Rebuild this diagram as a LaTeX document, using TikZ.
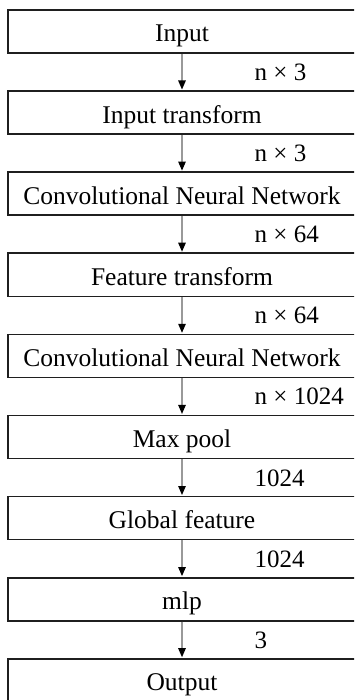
\documentclass[tikz,border=0pt]{standalone}
\usepackage{fontspec}
\setmainfont{Liberation Serif}
\usetikzlibrary{arrows.meta}
\tikzset{
  stagebox/.style={draw=black!88, line width=1.6pt, rectangle, minimum width=348pt,
    minimum height=43pt, inner sep=0pt, text height=21pt, text depth=0pt,
    font=\fontsize{25.5}{30}\selectfont},
  flow/.style={draw=black!40, line width=1.2pt, -{Triangle[length=9pt,width=7.5pt,color=black]}, shorten >=0.8pt},
  dimlabel/.style={anchor=base west, inner sep=0pt, font=\fontsize{25}{30}\selectfont}
}
\begin{document}
\begin{tikzpicture}[x=1pt,y=-1pt]
\path[use as bounding box] (0,0) rectangle (354,700);
\clip (0,0) rectangle (354,700);
\node[stagebox] (b1) at (182,31.5)  {Input};
\node[stagebox] (b2) at (182,112.6) {Input transform};
\node[stagebox] (b3) at (182,193.7) {Convolutional Neural Network};
\node[stagebox] (b4) at (182,274.8) {Feature transform};
\node[stagebox] (b5) at (182,355.9) {Convolutional Neural Network};
\node[stagebox] (b6) at (182,437.0) {Max pool};
\node[stagebox] (b7) at (182,518.1) {Global feature};
\node[stagebox] (b8) at (182,599.2) {mlp};
\node[stagebox] (b9) at (182,680.3) {Output};
\foreach \a/\b in {b1/b2,b2/b3,b3/b4,b4/b5,b5/b6,b6/b7,b7/b8,b8/b9}
  \draw[flow] (\a.south) -- (\b.north);
\node[dimlabel] (l1) at (254.5,80.5)  {n × 3};
\node[dimlabel] (l2) at (254.5,161.6) {n × 3};
\node[dimlabel] (l3) at (254.5,242.7) {n × 64};
\node[dimlabel] (l4) at (254.5,323.8) {n × 64};
\node[dimlabel] (l5) at (254.5,404.9) {n × 1024};
\node[dimlabel] (l6) at (254.5,486.0) {1024};
\node[dimlabel] (l7) at (254.5,567.1) {1024};
\node[dimlabel] (l8) at (254.5,648.2) {3};
\end{tikzpicture}
\end{document}
